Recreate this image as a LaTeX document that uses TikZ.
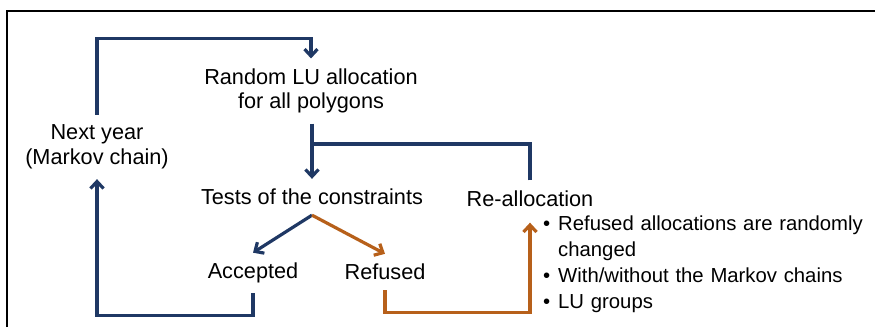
\documentclass[tikz,border=0pt]{standalone}
\usepackage{fontspec}
\setmainfont{Liberation Sans}
\usetikzlibrary{arrows.meta}
\definecolor{navy}{RGB}{31,56,100}
\definecolor{rust}{RGB}{183,96,26}
\newcommand{\bul}{\makebox[15pt][l]{•}}
\begin{document}
\begin{tikzpicture}[x=1pt,y=-1pt,
    lbl/.style={font=\fontsize{21.7}{24.5}\selectfont,align=center,inner sep=10pt},
    bl/.style={draw=navy,line width=3.2pt},
    br/.style={draw=rust,line width=3.2pt},
    tip/.style={-{Straight Barb[length=7pt,width=13pt]}}]
     \useasboundingbox (0,0) rectangle (875,327);
     \draw[line width=1.4pt] (7,327) -- (7,11) -- (875,11);

     \node[lbl] (next) at (97,147) {Next year\\(Markov chain)};
     \node[lbl] (random) at (311,91) {Random LU allocation\\for all polygons};
     \node[lbl] (tests) at (312,197) {Tests of the constraints};
     \node[lbl] (realloc) at (530,198.5) {Re-allocation};
     \node[lbl] (accepted) at (253,273) {Accepted};
     \node[lbl] (refused) at (385,272) {Refused};
     \node[anchor=north west,inner sep=0pt,text width=320pt,
           font=\fontsize{20.3}{26}\selectfont] (notes) at (543,216)
           {\bul Refused allocations are randomly\\
            \hspace*{15pt}changed\\
            \bul With/without the Markov chains\\
            \bul LU groups};
     \coordinate (join) at (312,144);

     \draw[bl,tip] (next.north) |- ([yshift=20pt]random.north) -- (random.north);
     \draw[bl,tip] (random.south -| tests) -- (tests);
     \draw[bl] (realloc.north) |- (join);
     \draw[bl,tip] (tests.south) -- (accepted.north);
     \draw[br,tip] (tests.south) -- (refused.north);
     \draw[bl,tip] (accepted.south) -- ++(0,22) -| (next.south);
     \draw[br,tip,shorten >=6pt] (refused.south) -- ++(0,22) -| (realloc.south);
\end{tikzpicture}
\end{document}
